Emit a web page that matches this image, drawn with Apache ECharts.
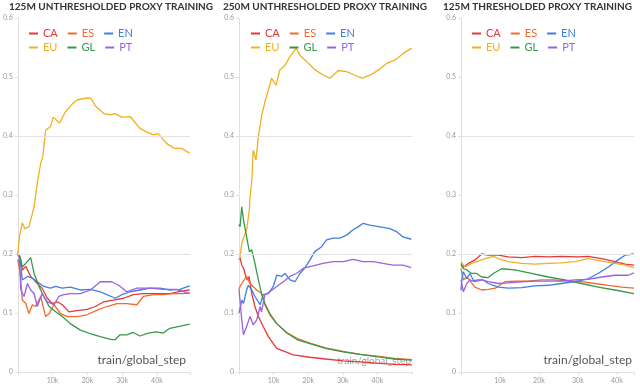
<!DOCTYPE html>
<html>
<head>
<meta charset="utf-8">
<script src="https://cdn.jsdelivr.net/npm/echarts@6/dist/echarts.min.js"></script>
<style>
  html, body { margin: 0; padding: 0; background: #fff; }
  #chart { width: 640px; height: 384px; }
</style>
</head>
<body>
<div id="chart"></div>
<script>
// steps are in thousands (k), values are domain weights
const names = ['CA', 'ES', 'EN', 'EU', 'GL', 'PT'];
const titles = ['125M UNTHRESHOLDED PROXY TRAINING', '250M UNTHRESHOLDED PROXY TRAINING', '125M THRESHOLDED PROXY TRAINING'];
const yTicks = [0, 0.1, 0.2, 0.3, 0.4, 0.5, 0.6];
const yGridLines = [0.2, 0.4];
const xTicks = [10, 20, 30, 40];

// 125M unthresholded
const p1_CA = [[0,0.2],[0.7,0.193],[1.3,0.173],[2.3,0.179],[3.7,0.162],[5.6,0.15],[7,0.142],[8.5,0.125],[9.9,0.116],[11.3,0.119],[12.8,0.114],[14.7,0.102],[17,0.104],[19.9,0.106],[22.3,0.111],[24.7,0.119],[27.5,0.122],[30.4,0.125],[33.2,0.131],[36.1,0.133],[40,0.133],[43.7,0.133],[47,0.137],[49.4,0.139]];
const p1_ES = [[0,0.19],[0.7,0.167],[1.3,0.122],[2.3,0.116],[3.2,0.099],[4.2,0.114],[5.1,0.111],[6.6,0.128],[8,0.094],[9,0.099],[10.4,0.114],[12.3,0.099],[14.2,0.094],[17,0.094],[19.9,0.097],[22.8,0.105],[25.6,0.111],[28.5,0.116],[31.3,0.116],[34.2,0.114],[36.1,0.128],[39,0.131],[41.8,0.131],[44.7,0.133],[47.5,0.133],[49.4,0.134]];
const p1_EN = [[0,0.19],[0.7,0.19],[1.3,0.156],[2.8,0.162],[4.2,0.159],[5.6,0.153],[7.5,0.145],[9.4,0.142],[10.9,0.145],[12.8,0.142],[15.1,0.144],[18,0.139],[20.9,0.14],[23.7,0.136],[25.6,0.131],[28,0.125],[29.9,0.131],[32.3,0.136],[35.1,0.139],[38,0.142],[40.9,0.142],[43.7,0.139],[46.6,0.14],[49.4,0.146]];
const p1_EU = [[0,0.2],[0.5,0.23],[1.3,0.253],[2,0.243],[3.2,0.246],[4.7,0.28],[5.6,0.32],[6.6,0.354],[7.2,0.365],[8,0.41],[9.4,0.416],[10.2,0.432],[12,0.422],[13.7,0.441],[15.6,0.454],[17,0.461],[19.4,0.464],[21,0.464],[22.3,0.451],[24.7,0.438],[26.6,0.436],[28,0.438],[29.9,0.432],[32.3,0.433],[35.1,0.413],[37,0.407],[39,0.402],[40.4,0.404],[42.8,0.387],[45,0.379],[47,0.379],[49.4,0.371]];
const p1_GL = [[0,0.2],[0.7,0.195],[1.3,0.178],[2.3,0.184],[3.7,0.194],[4.7,0.167],[6.1,0.145],[7.5,0.128],[9,0.111],[10.9,0.102],[12.8,0.094],[15.1,0.082],[18,0.071],[21.3,0.064],[23.7,0.06],[27,0.055],[28,0.055],[29.4,0.063],[31.3,0.063],[33.2,0.067],[35.1,0.061],[37.5,0.066],[39.9,0.068],[41.8,0.066],[43.7,0.074],[46.1,0.077],[49.4,0.081]];
const p1_PT = [[0,0.2],[0.4,0.195],[0.9,0.139],[1.8,0.128],[2.8,0.15],[3.7,0.139],[4.7,0.133],[5.6,0.111],[7,0.133],[8.5,0.119],[10.4,0.114],[11.8,0.128],[13.2,0.131],[15.1,0.133],[18,0.133],[20.9,0.139],[23.7,0.153],[27,0.153],[29,0.147],[31.3,0.136],[34.2,0.142],[38,0.142],[41.8,0.14],[45.6,0.14],[49.4,0.133]];

// 250M unthresholded
const p2_CA = [[0,0.19],[0.3,0.194],[0.8,0.181],[1.3,0.176],[1.9,0.164],[2.4,0.156],[2.9,0.162],[3.7,0.133],[4.6,0.111],[5.6,0.094],[7,0.077],[8.5,0.06],[10.9,0.04],[15.7,0.029],[20.5,0.025],[25,0.022],[30.1,0.019],[35,0.017],[39.8,0.015],[45,0.013],[50,0.012]];
const p2_ES = [[0,0.14],[0.3,0.145],[0.8,0.15],[1.3,0.153],[2.2,0.162],[3.2,0.15],[4.1,0.145],[5.1,0.139],[6.5,0.133],[7.5,0.114],[8.9,0.097],[10.9,0.082],[13.8,0.067],[17.1,0.056],[20.5,0.049],[25,0.041],[30.1,0.035],[35,0.03],[39.8,0.027],[45,0.023],[50,0.021]];
const p2_EN = [[0,0.1],[0.3,0.099],[0.8,0.122],[1.3,0.116],[2.2,0.139],[2.7,0.147],[3.7,0.139],[4.6,0.128],[6.1,0.114],[7,0.131],[8.5,0.133],[9.9,0.145],[10.9,0.164],[12.3,0.162],[13.3,0.167],[14.7,0.156],[16.2,0.153],[17.6,0.167],[19,0.176],[20.5,0.19],[21.9,0.204],[23.8,0.212],[25.3,0.224],[27.2,0.227],[29.1,0.227],[31.1,0.232],[33,0.241],[34.4,0.246],[35.9,0.252],[37.8,0.249],[40.7,0.246],[43.6,0.243],[45.5,0.238],[47.4,0.229],[49.8,0.225]];
const p2_EU = [[0,0.19],[0.3,0.195],[0.8,0.218],[1.3,0.227],[2.2,0.241],[3,0.275],[3.2,0.297],[3.7,0.325],[4.1,0.376],[4.9,0.359],[5.6,0.399],[6.6,0.436],[7.5,0.458],[8.5,0.478],[9.4,0.498],[10.7,0.486],[11.8,0.512],[13.3,0.52],[14.7,0.534],[16.5,0.549],[17.6,0.537],[19.6,0.526],[22,0.512],[24.4,0.503],[26.3,0.498],[28.7,0.511],[31.1,0.509],[33.5,0.503],[35.5,0.498],[37.9,0.503],[40.3,0.512],[42.7,0.523],[45.1,0.529],[47.5,0.54],[49.9,0.549]];
const p2_GL = [[0,0.25],[0.3,0.246],[0.8,0.28],[1.3,0.258],[2.2,0.229],[3,0.204],[3.7,0.207],[4.6,0.184],[5.6,0.156],[6.5,0.133],[7.5,0.116],[8.9,0.099],[10.9,0.082],[13.8,0.066],[17.1,0.054],[20.5,0.048],[25,0.04],[30.1,0.034],[35,0.03],[39.8,0.026],[45,0.022],[50,0.02]];
const p2_PT = [[0,0.14],[0.3,0.139],[0.8,0.088],[1.3,0.063],[2.2,0.077],[3.2,0.094],[4.1,0.08],[5.1,0.088],[6.1,0.111],[6.5,0.102],[7.5,0.131],[8.9,0.136],[10.9,0.145],[12.8,0.153],[14.7,0.162],[16.6,0.167],[18.6,0.176],[21.4,0.18],[24.3,0.184],[27.2,0.187],[30.1,0.187],[33,0.191],[35.9,0.187],[38.8,0.187],[41.6,0.184],[44.5,0.181],[47.4,0.181],[49.8,0.177]];

// 125M thresholded
const p3_CA = [[0,0.181],[0.6,0.178],[1.9,0.184],[3.6,0.19],[5.3,0.2],[7,0.198],[9.6,0.198],[12.1,0.195],[15.6,0.194],[19,0.196],[22.4,0.195],[25.8,0.196],[30.1,0.195],[32.6,0.196],[36.1,0.192],[39.5,0.187],[42.1,0.183],[44.4,0.181]];
const p3_ES = [[0,0.175],[0.6,0.156],[1.5,0.161],[2.3,0.155],[3.6,0.144],[5.3,0.139],[7,0.14],[8.8,0.142],[11.3,0.153],[13.8,0.154],[17.3,0.154],[20.7,0.156],[24.1,0.156],[27.5,0.154],[30.9,0.153],[34.4,0.15],[37.8,0.147],[41.2,0.144],[44.4,0.142]];
const p3_EN = [[0,0.139],[0.2,0.156],[0.6,0.17],[1.5,0.158],[2.3,0.167],[3.2,0.155],[4.4,0.156],[5.7,0.156],[7,0.15],[9.6,0.144],[12.1,0.142],[15.6,0.143],[19,0.146],[22.4,0.147],[25.8,0.15],[29.2,0.153],[32.6,0.158],[35.2,0.167],[37.8,0.178],[40.3,0.19],[42.1,0.198],[44.4,0.2]];
const p3_EU = [[0,0.187],[1,0.178],[2.7,0.184],[4.4,0.188],[6.2,0.192],[8.3,0.196],[9.6,0.192],[12.1,0.187],[15.6,0.184],[19,0.183],[22.4,0.184],[25.8,0.185],[29.2,0.187],[32.6,0.192],[36.1,0.188],[39.5,0.184],[42.1,0.181],[44.4,0.177]];
const p3_GL = [[0,0.184],[0.6,0.175],[1.5,0.173],[2.7,0.167],[4,0.167],[5.3,0.161],[7,0.16],[8.3,0.167],[10.4,0.175],[13.8,0.173],[18.1,0.167],[22.4,0.161],[26.7,0.156],[30.9,0.15],[35.2,0.144],[39.5,0.139],[44.4,0.133]];
const p3_PT = [[0,0.156],[0.6,0.136],[1.5,0.15],[2.3,0.156],[3.6,0.153],[5.3,0.156],[7,0.153],[9.6,0.15],[12.1,0.151],[15.6,0.153],[19,0.154],[22.4,0.154],[25.8,0.154],[29.2,0.156],[32.6,0.157],[36.1,0.161],[39.5,0.164],[42.9,0.164],[44.4,0.168]];

const xMax = [49.5, 50, 44.4];

const panels = [
  [p1_CA, p1_ES, p1_EN, p1_EU, p1_GL, p1_PT],
  [p2_CA, p2_ES, p2_EN, p2_EU, p2_GL, p2_PT],
  [p3_CA, p3_ES, p3_EN, p3_EU, p3_GL, p3_PT]
];

const colors = ['#e5383b', '#f26b2c', '#3f7fe0', '#f2b01e', '#35994a', '#9a62e0'];
const font = 'Lato, "Open Sans", sans-serif';
const gridLeft = [17, 239, 461];
const titleX = [106, 320, 540];
const legendX = [24, 246, 467];

let chart = echarts.init(document.getElementById('chart'));

let grids = [], xAxes = [], yAxes = [], series = [], legends = [], graphics = [];

for (let p = 0; p < 3; p++) {
  grids.push({ left: gridLeft[p], width: 173, top: 18, height: 354 });
  xAxes.push({
    type: 'value', gridIndex: p, min: 0, max: xMax[p], interval: 10,
    axisLine: { lineStyle: { color: '#e0e0e0' } },
    axisTick: { length: 3, lineStyle: { color: '#e0e0e0' } },
    splitLine: { show: false },
    axisLabel: {
      fontSize: 7, color: '#999', fontFamily: font, margin: 5,
      formatter: v => xTicks.indexOf(v) >= 0 ? v + 'k' : ''
    }
  });
  yAxes.push({
    type: 'value', gridIndex: p, min: 0, max: 0.6, interval: 0.1,
    axisLine: { show: true, lineStyle: { color: '#e0e0e0' } },
    axisTick: { show: true, length: 3, lineStyle: { color: '#e0e0e0' } },
    splitLine: { show: false },
    axisLabel: {
      fontSize: 7, color: '#999', fontFamily: font, margin: 5,
      formatter: v => yTicks.indexOf(Math.round(v * 10) / 10) >= 0 ? (v === 0 ? '0' : v.toFixed(1)) : ''
    }
  });
  // faint horizontal guide lines, drawn under the data
  series.push({
    type: 'line', xAxisIndex: p, yAxisIndex: p, data: [], z: 1, silent: true,
    markLine: {
      silent: true, symbol: 'none', label: { show: false },
      lineStyle: { color: '#e2e2e2', width: 1, type: 'solid' },
      data: yGridLines.map(v => ({ yAxis: v }))
    }
  });
  panels[p].forEach((d, i) => {
    series.push({
      name: names[i], type: 'line', xAxisIndex: p, yAxisIndex: p,
      data: d, showSymbol: false, symbol: 'none', z: 3,
      lineStyle: { width: 1.3, color: colors[i] }, itemStyle: { color: colors[i] }
    });
  });
  // two legend rows of three
  [[0, 1, 2], [3, 4, 5]].forEach((row, r) => {
    legends.push({
      left: legendX[p], top: 23 + r * 14,
      icon: 'rect', itemWidth: 9, itemHeight: 2, itemGap: 10,
      textStyle: { fontSize: 11, fontFamily: font },
      data: row.map(i => ({ name: names[i], textStyle: { color: colors[i] } }))
    });
  });
  graphics.push({
    type: 'text', left: titleX[p] - 97, top: 2,
    style: { text: titles[p], font: 'bold 10px ' + font, fill: '#333' }
  });
}

graphics.push(
  { type: 'text', right: 640 - 186, top: 354, z: 1, style: { text: 'train/global_step', font: '12px ' + font, fill: '#555' } },
  { type: 'text', right: 640 - 411, top: 356, z: 1, style: { text: 'train/global_step', font: '10px ' + font, fill: '#777', opacity: 0.7 } },
  { type: 'text', right: 640 - 632, top: 354, z: 1, style: { text: 'train/global_step', font: '12px ' + font, fill: '#555' } }
);

let option = {
  animation: false,
  backgroundColor: '#fff',
  grid: grids,
  xAxis: xAxes,
  yAxis: yAxes,
  legend: legends,
  graphic: graphics,
  series: series
};
chart.setOption(option);
</script>
</body>
</html>
